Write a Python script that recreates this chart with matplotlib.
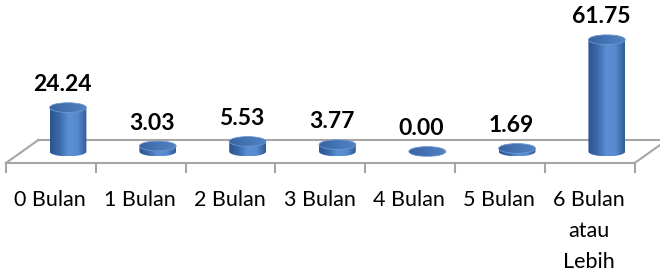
import numpy as np
import matplotlib.pyplot as plt
from matplotlib.patches import Polygon, Ellipse
from matplotlib.colors import LinearSegmentedColormap

categories = ["0 Bulan", "1 Bulan", "2 Bulan", "3 Bulan", "4 Bulan", "5 Bulan",
              "6 Bulan\natau\nLebih"]
values = [24.24, 3.03, 5.53, 3.77, 0.00, 1.69, 61.75]

plt.rcParams['font.family'] = ['Lato', 'DejaVu Sans']

body_cmap = LinearSegmentedColormap.from_list(
    "body", ["#2C548F", "#3B69A9", "#5C8FD4", "#568ACF", "#305B97"])
top_cmap = LinearSegmentedColormap.from_list(
    "top", ["#3863A0", "#4675B6", "#5282C3"])

fig = plt.figure(figsize=(6.6, 2.76), dpi=100)
ax = fig.add_axes([0, 0, 1, 1])
ax.axis("off")

xlim = (-0.757, 6.592)
ylim = (-68.8, 83.7)

# floor (3d look): front edge, back edge shifted by depth
front_y, back_y = -6.35, 6.35
front_l = -0.69
depth_dx = 0.36
n = len(categories)
floor_c = "#A6A6A6"
ax.plot([front_l, front_l + n], [front_y, front_y], color=floor_c, lw=1.5, zorder=1)
ax.plot([front_l + depth_dx, front_l + n + depth_dx], [back_y, back_y],
        color=floor_c, lw=1.5, zorder=1)
ax.plot([front_l, front_l + depth_dx], [front_y, back_y], color=floor_c, lw=1.5, zorder=1)
ax.plot([front_l + n, front_l + n + depth_dx], [front_y, back_y],
        color=floor_c, lw=1.5, zorder=1)
for k in range(n + 1):
    ax.plot([front_l + k, front_l + k], [front_y, front_y - 5],
            color=floor_c, lw=1.5, zorder=1)

grad = np.linspace(0, 1, 256).reshape(1, -1)


def cylinder(x, h, w=0.41, eh=5.4):
    l, r = x - w / 2, x + w / 2
    t = np.linspace(np.pi, 2 * np.pi, 60)
    arc = np.column_stack([x + w / 2 * np.cos(t), eh / 2 * np.sin(t)])
    verts = np.vstack([[l, h], arc, [r, h]])
    body = Polygon(verts, closed=True, facecolor="none", edgecolor="none")
    ax.add_patch(body)
    im = ax.imshow(grad, cmap=body_cmap, extent=[l, r, -eh / 2, h],
                   aspect="auto", zorder=2)
    im.set_clip_path(body)
    top = Ellipse((x, h), w, eh, facecolor="none", edgecolor="#6E97CF",
                  lw=0.6, zorder=3)
    ax.add_patch(top)
    im2 = ax.imshow(grad, cmap=top_cmap, extent=[l, r, h - eh / 2, h + eh / 2],
                    aspect="auto", zorder=2.5)
    im2.set_clip_path(top)


for i, v in enumerate(values):
    cylinder(i, v)
    ax.annotate(f"{v:.2f}", xy=(i, v), xytext=(-4, 16.5), textcoords="offset points",
                ha="center", va="center", fontsize=16.5, fontweight="bold")

for i, cat in enumerate(categories):
    ax.annotate(cat, xy=(i - 0.2, front_y), xytext=(0, -19.5), textcoords="offset points",
                ha="center", va="top", fontsize=15.5, linespacing=1.68)

ax.set_xlim(*xlim)
ax.set_ylim(*ylim)

plt.savefig("out.png", dpi=100)
